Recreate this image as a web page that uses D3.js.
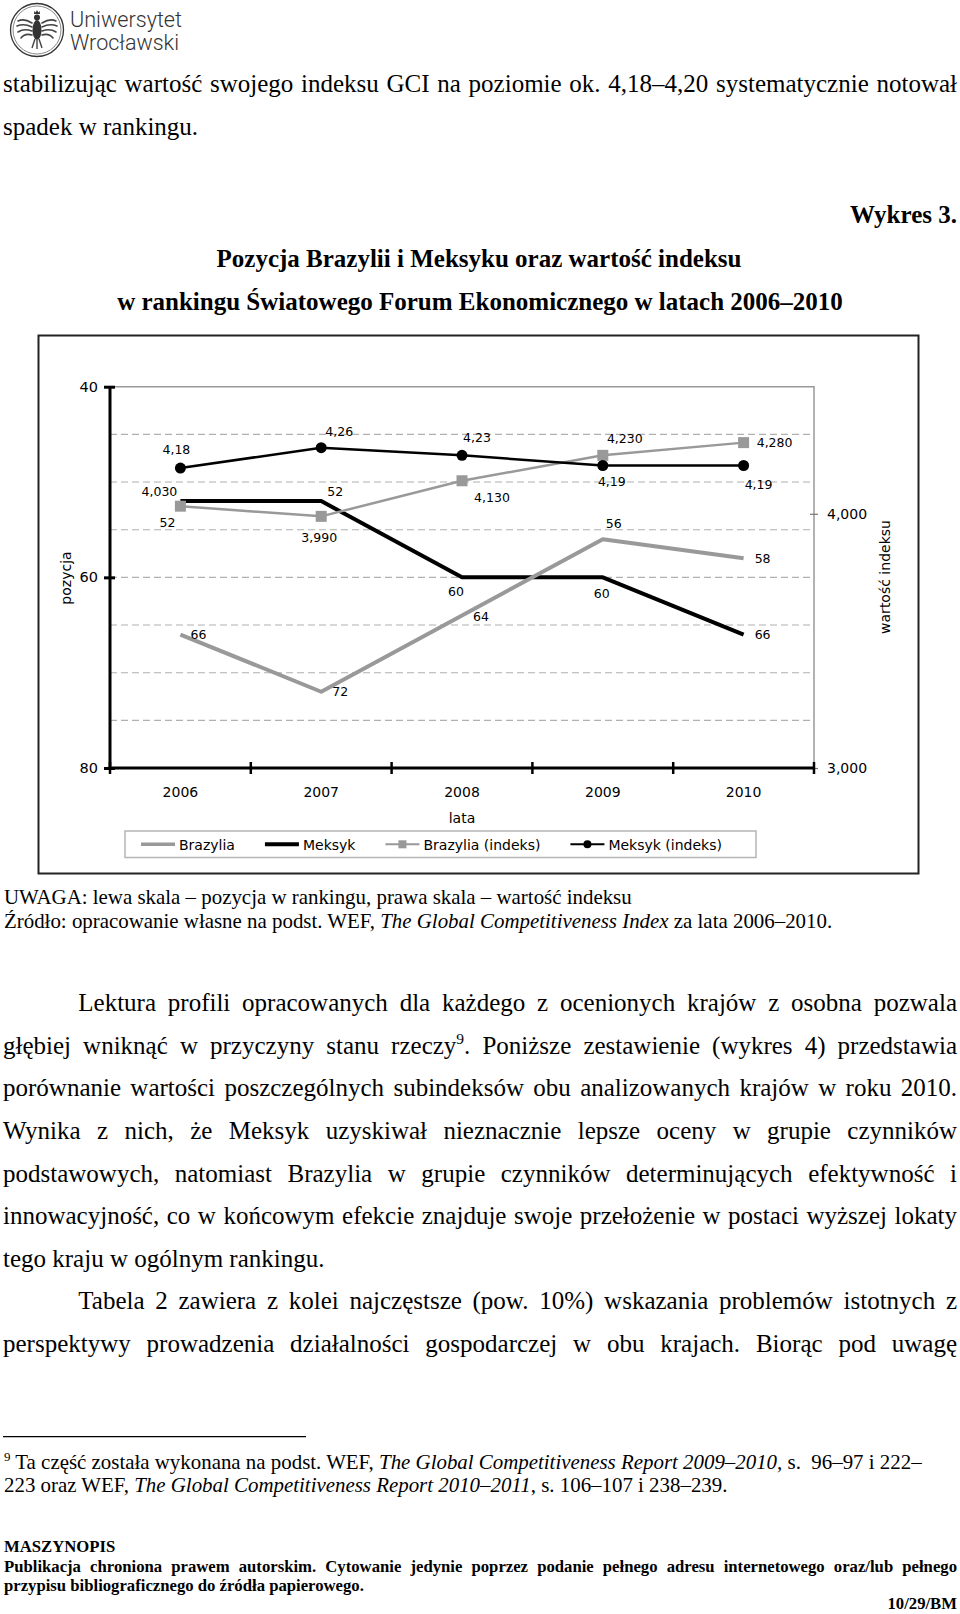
<!DOCTYPE html>
<html><head><meta charset="utf-8">
<script src="https://cdn.jsdelivr.net/npm/d3@7"></script>
<style>
html,body{margin:0;padding:0;background:#fff;}
svg{display:block;}
</style></head>
<body>
<script>
// ---------- DATA ----------
const years = ["2006","2007","2008","2009","2010"];
const brazilRank = [66, 72, 64, 56, 58];
const mexicoRank = [52, 52, 60, 60, 66];
const brazilIndex = [4.030, 3.990, 4.130, 4.230, 4.280];
const mexicoIndex = [4.18, 4.26, 4.23, 4.19, 4.19];
const leftTicks = [40, 60, 80];
const rightTicks = [3, 4];
const gridRanks = [45, 50, 55, 60, 65, 70, 75];
const seriesNames = ["Brazylia", "Meksyk", "Brazylia (indeks)", "Meksyk (indeks)"];

// label placement (presentation only: offsets from the point)
const offBrazilRank = [[18,0],[19,0],[19,1],[11,-16],[19,0]];
const offMexicoRank = [[-13,21],[14,-10],[-6,14],[-1,16],[19,0]];
const offBrazilIdx = [[-21,-15],[-2,21],[30,17],[22,-17],[31,0]];
const offMexicoIdx = [[-4,-19],[18,-16],[15,-18],[9,16],[15,19]];

// ---------- SETUP ----------
const W = 960, H = 1614;
const serif = "'Liberation Serif','Times New Roman',serif";
const sans = "'DejaVu Sans',Verdana,sans-serif";
const GRAY = "#999999";
const svg = d3.select("body").append("svg").attr("width", W).attr("height", H);

// ---------- TEXT HELPER ----------
function textLine(parts, x, y, o) {
  const size = o.size;
  const t = svg.append("text")
    .attr("x", x).attr("y", y)
    .attr("font-family", serif).attr("font-size", size)
    .attr("font-weight", o.bold ? "bold" : null)
    .attr("text-anchor", o.anchor || "start")
    .attr("fill", "#000");
  let shifted = false;
  parts.forEach(p => {
    const s = (typeof p === "string") ? {t: p} : p;
    const ts = t.append("tspan").text(s.t);
    if (s.i) ts.attr("font-style", "italic");
    if (s.sup) { ts.attr("font-size", size * 0.62).attr("dy", -size * 0.4); shifted = true; }
    else if (shifted) { ts.attr("dy", size * 0.4); shifted = false; }
  });
  if (o.justifyTo) {
    const natural = t.node().getComputedTextLength();
    const nSpaces = (t.text().match(/ /g) || []).length;
    if (nSpaces > 0) t.attr("word-spacing", (o.justifyTo - x - natural) / nSpaces);
  }
  return t;
}

// ---------- LOGO ----------
const logo = svg.append("g");
logo.append("circle").attr("cx", 37).attr("cy", 30).attr("r", 26.5)
  .attr("fill", "none").attr("stroke", "#333").attr("stroke-width", 1.3);
logo.append("circle").attr("cx", 37).attr("cy", 30).attr("r", 24)
  .attr("fill", "none").attr("stroke", "#555").attr("stroke-width", 0.7);
logo.append("path").attr("fill", "none").attr("stroke", "#444").attr("stroke-width", 1.6)
  .attr("stroke-linecap", "round")
  .attr("d", "M32,23 Q24,18 18,21 M32,27 Q24,23 17,26 M32,31 Q24,28 18,32 M32,35 Q25,33 21,38 M42,23 Q50,18 56,21 M42,27 Q50,23 57,26 M42,31 Q50,28 56,32 M42,35 Q49,33 53,38");
logo.append("ellipse").attr("cx", 37).attr("cy", 30).attr("rx", 4.5).attr("ry", 10).attr("fill", "#333");
logo.append("circle").attr("cx", 37).attr("cy", 17.5).attr("r", 3).attr("fill", "#333");
logo.append("path").attr("fill", "#333").attr("d", "M34,14 L34.3,11 L35.7,12.5 L37,10 L38.3,12.5 L39.7,11 L40,14 Z");
logo.append("path").attr("fill", "none").attr("stroke", "#444").attr("stroke-width", 1.4)
  .attr("d", "M35,39 L32,48 M37,40 L37,49 M39,39 L42,48");
svg.append("text").attr("x", 70).attr("y", 27).attr("font-family", "Roboto, 'Open Sans', sans-serif")
  .attr("font-weight", 300).attr("font-size", 22).attr("fill", "#333")
  .attr("textLength", 112).attr("lengthAdjust", "spacingAndGlyphs").text("Uniwersytet");
svg.append("text").attr("x", 70).attr("y", 50).attr("font-family", "Roboto, 'Open Sans', sans-serif")
  .attr("font-weight", 300).attr("font-size", 22).attr("fill", "#333")
  .attr("textLength", 109).attr("lengthAdjust", "spacingAndGlyphs").text("Wrocławski");

// ---------- BODY TEXT TOP ----------
const BODY = 25;
textLine(["stabilizując wartość swojego indeksu GCI na poziomie ok. 4,18–4,20 systematycznie notował"], 3, 92.3, {size: BODY, justifyTo: 957});
textLine(["spadek w rankingu."], 3, 135, {size: BODY});
textLine(["Wykres 3."], 957, 223, {size: BODY, bold: true, anchor: "end"});
textLine(["Pozycja Brazylii i Meksyku oraz wartość indeksu"], 479, 266.7, {size: BODY, bold: true, anchor: "middle"});
textLine(["w rankingu Światowego Forum Ekonomicznego w latach 2006–2010"], 480, 310, {size: BODY, bold: true, anchor: "middle"});

// ---------- CHART ----------
const plot = {l: 110, r: 814, t: 386.7, b: 768};
const x = d3.scaleBand().domain(years).range([plot.l, plot.r]);
const cx = y => x(y) + x.bandwidth() / 2;
const yR = d3.scaleLinear().domain([40, 80]).range([plot.t, plot.b]);
const yI = d3.scaleLinear().domain([3, 4.5]).range([plot.b, plot.t]);

// outer frame
svg.append("rect").attr("x", 38.5).attr("y", 335.5).attr("width", 880).attr("height", 538)
  .attr("fill", "none").attr("stroke", "#222").attr("stroke-width", 2);

// gridlines
svg.append("g").selectAll("line").data(gridRanks).join("line")
  .attr("x1", plot.l).attr("x2", plot.r).attr("y1", d => yR(d)).attr("y2", d => yR(d))
  .attr("stroke", "#b0b0b0").attr("stroke-width", 1.1).attr("stroke-dasharray", "7,4");
// plot border top/right
svg.append("path").attr("d", `M${plot.l},${plot.t}H${plot.r}V${plot.b}`)
  .attr("fill", "none").attr("stroke", "#999").attr("stroke-width", 1.5);

// left axis
const gL = svg.append("g").attr("transform", `translate(${plot.l},0)`)
  .call(d3.axisLeft(yR).tickValues(leftTicks).tickSize(6).tickPadding(6).tickFormat(d3.format("d")));
gL.attr("font-family", sans).attr("font-size", 14.5);
gL.select(".domain").attr("stroke", "#000").attr("stroke-width", 3).attr("d", `M0,${plot.t}V${plot.b + 1.5}`);
gL.selectAll(".tick line").attr("x1", 5).attr("x2", -6).attr("stroke", "#000").attr("stroke-width", 3);
gL.selectAll(".tick text").attr("fill", "#000");

// right axis
const gRt = svg.append("g").attr("transform", `translate(${plot.r},0)`)
  .call(d3.axisRight(yI).tickValues(rightTicks).tickSize(4).tickPadding(9)
    .tickFormat(d => d3.format(".3f")(d).replace(".", ",")));
gRt.attr("font-family", sans).attr("font-size", 14);
gRt.select(".domain").remove();
gRt.selectAll(".tick line").attr("x1", -4).attr("x2", 4).attr("stroke", "#777").attr("stroke-width", 1.2);
gRt.selectAll(".tick text").attr("fill", "#000");

// bottom axis
const gB = svg.append("g").attr("transform", `translate(0,${plot.b})`)
  .call(d3.axisBottom(x).tickSize(0).tickPadding(18.7));
gB.attr("font-family", sans).attr("font-size", 14);
gB.select(".domain").attr("stroke", "#000").attr("stroke-width", 3).attr("d", `M${plot.l - 1.5},0H${plot.r}`);
gB.selectAll(".tick text").attr("fill", "#000");
const bounds = years.map(y => x(y)).concat([plot.r]);
gB.append("g").selectAll("line").data(bounds).join("line")
  .attr("x1", d => d).attr("x2", d => d).attr("y1", -6).attr("y2", 6)
  .attr("stroke", "#000").attr("stroke-width", 2.5);

// axis titles
svg.append("text").attr("transform", "translate(71,578) rotate(-90)").attr("text-anchor", "middle")
  .attr("font-family", sans).attr("font-size", 14).text("pozycja");
svg.append("text").attr("transform", "translate(890,577) rotate(-90)").attr("text-anchor", "middle")
  .attr("font-family", sans).attr("font-size", 14).text("wartość indeksu");
svg.append("text").attr("x", (plot.l + plot.r) / 2).attr("y", 823).attr("text-anchor", "middle")
  .attr("font-family", sans).attr("font-size", 14).text("lata");

// series lines
const lineGen = sc => d3.line().x((d, i) => cx(years[i])).y(d => sc(d));
const gS = svg.append("g").attr("fill", "none");
gS.append("path").datum(mexicoRank).attr("d", lineGen(yR)).attr("stroke", "#000").attr("stroke-width", 4).attr("stroke-linejoin", "round");
gS.append("path").datum(brazilRank).attr("d", lineGen(yR)).attr("stroke", GRAY).attr("stroke-width", 4).attr("stroke-linejoin", "round");
gS.append("path").datum(brazilIndex).attr("d", lineGen(yI)).attr("stroke", GRAY).attr("stroke-width", 2.5);
gS.append("path").datum(mexicoIndex).attr("d", lineGen(yI)).attr("stroke", "#000").attr("stroke-width", 2.5);

// markers
svg.append("g").selectAll("rect").data(brazilIndex).join("rect")
  .attr("x", (d, i) => cx(years[i]) - 5.5).attr("y", d => yI(d) - 5.5)
  .attr("width", 11).attr("height", 11).attr("fill", GRAY);
svg.append("g").selectAll("circle").data(mexicoIndex).join("circle")
  .attr("cx", (d, i) => cx(years[i])).attr("cy", d => yI(d)).attr("r", 5.5).attr("fill", "#000");

// data labels
function labels(vals, sc, fmt, offs) {
  svg.append("g").attr("font-family", sans).attr("font-size", 12.5).attr("text-anchor", "middle")
    .selectAll("text").data(vals).join("text")
    .attr("x", (d, i) => cx(years[i]) + offs[i][0])
    .attr("y", (d, i) => sc(d) + offs[i][1])
    .attr("dy", "0.36em")
    .text(fmt);
}
labels(brazilRank, yR, d => String(d), offBrazilRank);
labels(mexicoRank, yR, d => String(d), offMexicoRank);
labels(brazilIndex, yI, d => d3.format(".3f")(d).replace(".", ","), offBrazilIdx);
labels(mexicoIndex, yI, d => d3.format(".2f")(d).replace(".", ","), offMexicoIdx);

// legend
svg.append("rect").attr("x", 125).attr("y", 831).attr("width", 631).attr("height", 26.5)
  .attr("fill", "#fff").attr("stroke", "#b5b5b5").attr("stroke-width", 1.5);
const legStyles = [
  {c: GRAY, w: 3.5, m: null},
  {c: "#000", w: 4, m: null},
  {c: GRAY, w: 2, m: "sq"},
  {c: "#000", w: 2, m: "ci"}
];
let lx = 141;
seriesNames.forEach((name, i) => {
  const st = legStyles[i];
  const g = svg.append("g");
  g.append("line").attr("x1", lx).attr("x2", lx + 34).attr("y1", 844.3).attr("y2", 844.3)
    .attr("stroke", st.c).attr("stroke-width", st.w);
  if (st.m === "sq") g.append("rect").attr("x", lx + 17 - 4).attr("y", 844.3 - 4).attr("width", 8).attr("height", 8).attr("fill", st.c);
  if (st.m === "ci") g.append("circle").attr("cx", lx + 17).attr("cy", 844.3).attr("r", 4).attr("fill", st.c);
  const t = g.append("text").attr("x", lx + 38).attr("y", 850).attr("font-family", sans).attr("font-size", 14).text(name);
  lx = lx + 38 + t.node().getComputedTextLength() + 30;
});

// ---------- BELOW CHART ----------
const NOTE = 20.9;
textLine(["UWAGA: lewa skala – pozycja w rankingu, prawa skala – wartość indeksu"], 4, 904, {size: NOTE});
textLine(["Źródło: opracowanie własne na podst. WEF, ", {t: "The Global Competitiveness Index", i: true}, " za lata 2006–2010."], 4, 928.3, {size: NOTE});

const paraLines = [
  {p: ["Lektura profili opracowanych dla każdego z ocenionych krajów z osobna pozwala"], x: 78.3, j: true},
  {p: ["głębiej wniknąć w przyczyny stanu rzeczy", {t: "9", sup: true}, ". Poniższe zestawienie (wykres 4) przedstawia"], x: 3, j: true},
  {p: ["porównanie wartości poszczególnych subindeksów obu analizowanych krajów w roku 2010."], x: 3, j: true},
  {p: ["Wynika z nich, że Meksyk uzyskiwał nieznacznie lepsze oceny w grupie czynników"], x: 3, j: true},
  {p: ["podstawowych, natomiast Brazylia w grupie czynników determinujących efektywność i"], x: 3, j: true},
  {p: ["innowacyjność, co w końcowym efekcie znajduje swoje przełożenie w postaci wyższej lokaty"], x: 3, j: true},
  {p: ["tego kraju w ogólnym rankingu."], x: 3, j: false},
  {p: ["Tabela 2 zawiera z kolei najczęstsze (pow. 10%) wskazania problemów istotnych z"], x: 78.3, j: true},
  {p: ["perspektywy prowadzenia działalności gospodarczej w obu krajach. Biorąc pod uwagę"], x: 3, j: true}
];
paraLines.forEach((l, i) => textLine(l.p, l.x, 1011.2 + i * 42.6, {size: BODY, justifyTo: l.j ? 957 : null}));

// footnote
svg.append("line").attr("x1", 3).attr("x2", 306).attr("y1", 1436.7).attr("y2", 1436.7)
  .attr("stroke", "#000").attr("stroke-width", 1.3);
textLine([{t: "9", sup: true}, " Ta część została wykonana na podst. WEF, ", {t: "The Global Competitiveness Report 2009–2010,", i: true}, " s.\u00a0 96–97 i 222–"], 4, 1469.3, {size: NOTE});
textLine(["223 oraz WEF, ", {t: "The Global Competitiveness Report 2010–2011", i: true}, ", s. 106–107 i 238–239."], 4, 1491.7, {size: NOTE});

// footer
const FOOT = 16.7;
textLine(["MASZYNOPIS"], 4, 1551.7, {size: FOOT, bold: true});
textLine(["Publikacja chroniona prawem autorskim. Cytowanie jedynie poprzez podanie pełnego adresu internetowego oraz/lub pełnego"], 4, 1571.7, {size: FOOT, bold: true, justifyTo: 957});
textLine(["przypisu bibliograficznego do źródła papierowego."], 4, 1591, {size: FOOT, bold: true});
textLine(["10/29/BM"], 957, 1608.5, {size: FOOT, bold: true, anchor: "end"});
</script>
</body></html>
